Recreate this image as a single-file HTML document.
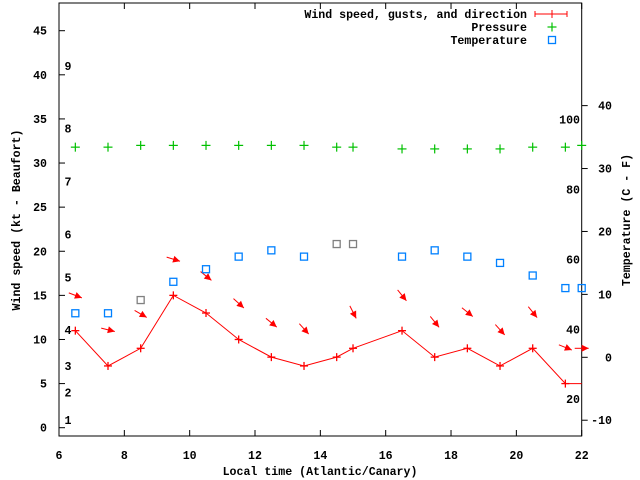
<!DOCTYPE html>
<html><head><meta charset="utf-8"><style>
html,body{margin:0;padding:0;background:#fff}
svg{display:block}
text{font-family:"Liberation Mono",monospace;font-weight:bold;font-size:11.6px;fill:#000}
</style></head><body>
<svg id="chart" width="640" height="480" xmlns="http://www.w3.org/2000/svg"></svg>
<script>
const times=[6.5,7.5,8.5,9.5,10.5,11.5,12.5,13.5,14.5,15,16.5,17.5,18.5,19.5,20.5,21.5];
const windSpeed=[11,7,9,15,13,10,8,7,8,9,11,8,9,7,9,5];
const arrowTimes=[6.5,7.5,8.5,9.5,10.5,11.5,12.5,13.5,15,16.5,17.5,18.5,19.5,20.5,21.5,22];
const gusts=[15,11.1,12.9,19.1,17.2,14.1,11.9,11.2,13.1,15,12,13.1,11.1,13.1,9.1,9];
const arrowAngles=[21,14,30,17,39,42,39,48,63,51,51,39,48,51,22,0];
const pressTimes=[6.5,7.5,8.5,9.5,10.5,11.5,12.5,13.5,14.5,15,16.5,17.5,18.5,19.5,20.5,21.5,22];
const pressure=[31.8,31.8,32,32,32,32,32,32,31.8,31.8,31.6,31.6,31.6,31.6,31.8,31.8,32];
const tempTimes=[6.5,7.5,8.5,9.5,10.5,11.5,12.5,13.5,14.5,15,16.5,17.5,18.5,19.5,20.5,21.5,22];
const temps=[7,7,9.1,12,14,16,17,16,18,18,16,17,16,15,13,11,11];
const tempGray=[0,0,1,0,0,0,0,0,1,1,0,0,0,0,0,0,0];
const xTicks=[6,8,10,12,14,16,18,20,22];
const yTicks=[0,5,10,15,20,25,30,35,40,45];
const y2Ticks=[-10,0,10,20,30,40];
const fTicks=[20,40,60,80,100];
const beaufort=[1,2,3,4,5,6,7,8,9];
const beaufortKt=[0.9,4,7,11.1,17,21.9,27.9,33.9,41];

const L=59,R=581.7,T=3,B=436;
const X=t=>L+(t-6)*(R-L)/16;
const Y=v=>427.7-v*(427.7-30.7)/45;
const Y2=c=>357.3-c*(357.3-42.7)/50;
const YF=f=>Y2((f-32)*5/9);
const svg=document.getElementById('chart');
const NS='http://www.w3.org/2000/svg';
function mk(tag,attrs,parent){const e=document.createElementNS(NS,tag);for(const k in attrs)e.setAttribute(k,attrs[k]);(parent||svg).appendChild(e);return e;}
function txt(x,y,s,anchor,parent){const e=mk('text',{x:x,y:y,'text-anchor':anchor||'middle'},parent);e.textContent=s;return e;}

// axes frame
const frame=mk('rect',{x:L,y:T,width:R-L,height:B-T,fill:'none',stroke:'#000','stroke-width':1});



const gx=mk('g',{});


xTicks.forEach(t=>{
  mk('line',{x1:X(t),x2:X(t),y1:B,y2:B-6,stroke:'#000'},gx);
  mk('line',{x1:X(t),x2:X(t),y1:T,y2:T+6,stroke:'#000'},gx);
  const e=txt(X(t),459,String(t),'middle',gx);
  
  
});
const gy=mk('g',{});


yTicks.forEach(v=>{
  mk('line',{x1:L,x2:L+6,y1:Y(v),y2:Y(v),stroke:'#000'},gy);
  const e=txt(47,Y(v)+4,String(v),'end',gy);
  
  
});
const gy2=mk('g',{});


y2Ticks.forEach(v=>{
  mk('line',{x1:R,x2:R+6,y1:Y2(v),y2:Y2(v),stroke:'#000'},gy2);
  const e=txt(612,Y2(v)+4,String(v),'end',gy2);
  
  
});
fTicks.forEach(f=>{
  const e=txt(580,YF(f)+4,String(f),'end');
  
  
});
beaufort.forEach((b,i)=>{
  const e=txt(68,Y(beaufortKt[i])+4,String(b),'middle');
  
  
});
let e=txt(320,475,'Local time (Atlantic/Canary)');


e=txt(0,0,'Wind speed (kt - Beaufort)');
e.setAttribute('transform','translate(20,220) rotate(-90)');


e=txt(0,0,'Temperature (C - F)');
e.setAttribute('transform','translate(630,220) rotate(-90)');



// wind line
const pts=times.map((t,i)=>X(t)+','+Y(windSpeed[i])).join(' ');
const wl=mk('polyline',{points:pts,fill:'none',stroke:'#f00','stroke-width':1});


const last=times.length-1;
const gb=mk('line',{x1:X(times[last]),x2:X(22),y1:Y(windSpeed[last]),y2:Y(windSpeed[last]),stroke:'#f00'});


times.forEach((t,i)=>{
  const g=mk('g',{stroke:'#f00','stroke-width':1.3});
  
  
  const x=X(t),y=Y(windSpeed[i]);
  mk('line',{x1:x-4,x2:x+4,y1:y,y2:y},g);mk('line',{x1:x,x2:x,y1:y-4,y2:y+4},g);
});
// arrows
arrowTimes.forEach((t,i)=>{
  const a=arrowAngles[i]*Math.PI/180,cx=X(t),cy=Y(gusts[i]),len=14;
  const dx=Math.cos(a),dy=Math.sin(a);
  const x1=cx-dx*len/2,y1=cy-dy*len/2,x2=cx+dx*len/2,y2=cy+dy*len/2;
  const g=mk('g',{});
  
  
  mk('line',{x1:x1,y1:y1,x2:x2,y2:y2,stroke:'#f00'},g);
  const hl=7,hw=3.5,bx=x2-dx*hl,by=y2-dy*hl;
  mk('polygon',{points:`${x2},${y2} ${bx-dy*hw},${by+dx*hw} ${bx+dy*hw},${by-dx*hw}`,fill:'#f00'},g);
});
// pressure
pressTimes.forEach((t,i)=>{
  const g=mk('g',{stroke:'#00c000','stroke-width':1.2});
  
  
  const x=X(t),y=Y(pressure[i]);
  mk('line',{x1:x-4.5,x2:x+4.5,y1:y,y2:y},g);mk('line',{x1:x,x2:x,y1:y-4.5,y2:y+4.5},g);
});
// temperature
tempTimes.forEach((t,i)=>{
  const r=mk('rect',{x:X(t)-3.5,y:Y2(temps[i])-3.5,width:7,height:7,fill:'none',stroke:tempGray[i]?'#808080':'#0080ff','stroke-width':1.3});
  
  
});
// legend
const lg=mk('g',{});


const l1=txt(527,18,'Wind speed, gusts, and direction','end',lg);


mk('line',{x1:535,x2:567,y1:14,y2:14,stroke:'#f00'},lg);
mk('line',{x1:535,x2:535,y1:11,y2:17,stroke:'#f00'},lg);
mk('line',{x1:567,x2:567,y1:11,y2:17,stroke:'#f00'},lg);
mk('line',{x1:552,x2:552,y1:10,y2:18,stroke:'#f00'},lg);
const l2=txt(527,31,'Pressure','end',lg);


mk('line',{x1:547.5,x2:556.5,y1:27,y2:27,stroke:'#00c000','stroke-width':1.2},lg);
mk('line',{x1:552,x2:552,y1:22.5,y2:31.5,stroke:'#00c000','stroke-width':1.2},lg);
const l3=txt(527,44,'Temperature','end',lg);


mk('rect',{x:548.5,y:36.5,width:7,height:7,fill:'none',stroke:'#0080ff','stroke-width':1.3},lg);
</script>
</body></html>
